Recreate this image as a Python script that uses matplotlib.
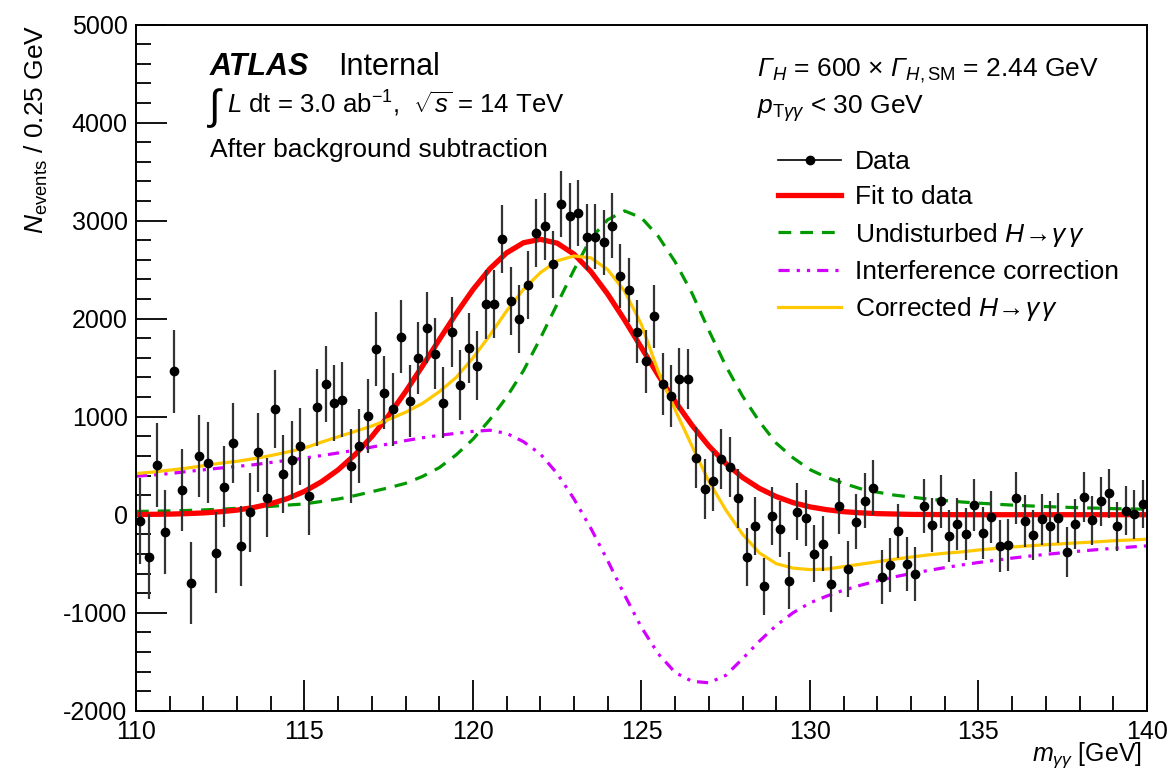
import numpy as np
import matplotlib
matplotlib.use("Agg")
import matplotlib.pyplot as plt
from matplotlib.lines import Line2D
from matplotlib.ticker import MultipleLocator

plt.rcParams["font.family"] = ["Liberation Sans", "DejaVu Sans"]
plt.rcParams["mathtext.fontset"] = "custom"
plt.rcParams["mathtext.rm"] = "Liberation Sans"
plt.rcParams["mathtext.it"] = "Liberation Sans:italic"
plt.rcParams["mathtext.bf"] = "Liberation Sans:bold"
# italic capital Greek (mathtext forces them upright in \mathit)
plt.rcParams["mathtext.sf"] = "Liberation Sans:italic"
plt.rcParams["axes.unicode_minus"] = False

# background-subtracted data, 0.25 GeV bins from 110 to 140 GeV
bin_centres = np.arange(110.125, 140.0, 0.25)
data_events = [
    -64, -429, 507, -180, 1463, 252, -694, 602, 531, -388,
    286, 732, -316, 24, 637, 173, 1079, 418, 561, 697,
    186, 1096, 1334, 1143, 1174, 497, 701, 1010, 1694, 1245,
    1075, 1816, 1157, 1596, 1908, 1643, 1143, 1864, 1323, 1702,
    1520, 2147, 2150, 2816, 2177, 2000, 2341, 2874, 2943, 2555,
    3170, 3045, 3082, 2834, 2834, 2780, 2950, 2438, 2293, 1867,
    1565, 2024, 1330, 1211, 1385, 1385, 582, 259, 347, 568,
    487, 167, -429, -115, -731, -13, -146, -673, 31, -37,
    -396, -294, -710, 87, -554, -70, 143, 276, -636, -514,
    -163, -500, -608, 89, -106, 135, -217, -95, -196, 100,
    -190, -24, -317, -310, 170, -64, -207, -47, -120, -32,
    -380, -96, 181, -59, 137, 220, -118, 40, 5, 112,
]
data_errors = [
    435, 432, 430, 428, 425, 423, 420, 418, 416, 414,
    412, 410, 408, 406, 404, 402, 400, 398, 396, 394,
    392, 390, 388, 386, 384, 382, 380, 378, 376, 374,
    372, 370, 368, 366, 364, 362, 360, 358, 356, 354,
    352, 350, 349, 348, 347, 346, 345, 344, 343, 342,
    340, 338, 336, 334, 332, 330, 328, 326, 324, 322,
    320, 318, 316, 314, 312, 310, 308, 306, 305, 304,
    302, 300, 298, 296, 294, 292, 290, 289, 288, 287,
    286, 285, 284, 283, 282, 281, 280, 279, 278, 277,
    276, 275, 274, 273, 272, 271, 270, 269, 268, 267,
    266, 265, 264, 263, 262, 261, 260, 259, 258, 257,
    256, 255, 254, 253, 252, 251, 250, 249, 248, 247,
]

# model curves read every 0.5 GeV
curve_mass = np.arange(110.0, 140.01, 0.5)
fit_curve = [
    2, 4, 6, 11, 18, 30, 47, 74, 112, 165,
    238, 335, 458, 612, 798, 1013, 1255, 1516, 1786, 2051,
    2297, 2509, 2672, 2775, 2810, 2771, 2658, 2480, 2250, 1986,
    1704, 1422, 1155, 913, 701, 524, 380, 269, 185, 123,
    80, 51, 31, 19, 11, 7, 3, 2, 1, 0,
    0, 0, 0, 0, 0, 0, 0, 0, 0, 0, 0,
]
undisturbed_curve = [
    33, 36, 39, 43, 49, 56, 65, 75, 85, 98,
    110, 135, 160, 195, 235, 275, 320, 390, 480, 610,
    770, 970, 1200, 1470, 1800, 2150, 2500, 2820, 3010, 3100,
    3030, 2840, 2580, 2260, 1880, 1520, 1210, 950, 730, 580,
    460, 380, 320, 265, 230, 200, 180, 160, 145, 130,
    118, 108, 98, 90, 83, 77, 71, 67, 62, 59, 56,
]
interference_curve = [
    393, 405, 420, 440, 458, 476, 493, 510, 533, 555,
    578, 603, 630, 658, 690, 722, 756, 785, 810, 830,
    850, 862, 830, 745, 620, 420, 160, -140, -470, -820,
    -1150, -1420, -1610, -1700, -1715, -1640, -1470, -1290, -1130, -1000,
    -900, -830, -770, -720, -675, -635, -600, -570, -540, -513,
    -488, -465, -443, -423, -405, -388, -372, -357, -343, -330, -318,
]
corrected_curve = [
    420, 435, 455, 475, 500, 525, 545, 572, 603, 640,
    680, 740, 795, 850, 905, 972, 1045, 1135, 1255, 1400,
    1600, 1830, 2080, 2300, 2470, 2590, 2640, 2620, 2500, 2280,
    1940, 1460, 1070, 700, 340, 50, -200, -390, -500, -545,
    -560, -555, -530, -505, -480, -455, -432, -411, -393, -380,
    -360, -345, -330, -318, -306, -296, -286, -277, -266, -258, -250,
]

RED = "#ff0000"
GREEN = "#009900"
MAGENTA = "#d400ff"
GOLD = "#ffc800"
GREEN_DASH = (4.0, 2.8)
MAGENTA_DASH = (3.5, 2.2, 1.0, 2.2, 1.0, 2.2)

fig = plt.figure(figsize=(11.7, 7.69), dpi=100)
ax = fig.add_axes([0.1162, 0.0758, 0.8641, 0.8921])

ax.plot(curve_mass, interference_curve, color=MAGENTA, lw=2.3, dashes=MAGENTA_DASH)
ax.plot(curve_mass, undisturbed_curve, color=GREEN, lw=2.3, dashes=GREEN_DASH)
ax.plot(curve_mass, fit_curve, color=RED, lw=3.8)
ax.plot(curve_mass, corrected_curve, color=GOLD, lw=2.3)
ax.errorbar(bin_centres, data_events, yerr=data_errors, fmt="o", color="black",
            ecolor="#333333", elinewidth=1.6, markersize=6, capsize=0, zorder=5)

ax.set_xlim(110, 140)
ax.set_ylim(-2000, 5000)
ax.xaxis.set_major_locator(MultipleLocator(5))
ax.xaxis.set_minor_locator(MultipleLocator(1))
ax.yaxis.set_major_locator(MultipleLocator(1000))
ax.yaxis.set_minor_locator(MultipleLocator(200))
ax.tick_params(which="both", direction="in", labelsize=18, width=1.3)
ax.tick_params(which="major", length=22)
ax.tick_params(which="minor", length=11)
ax.tick_params(axis="x", pad=7)
ax.tick_params(axis="y", pad=6)
for sp in ax.spines.values():
    sp.set_linewidth(1.4)

ax.set_xlabel(r"$m_{\gamma\gamma}$ [GeV]", fontsize=18, ha="right")
ax.xaxis.set_label_coords(0.995, -0.043)
ax.set_ylabel(r"$N_{\mathrm{events}}$ / 0.25 GeV", fontsize=19, ha="right")
ax.yaxis.set_label_coords(-0.085, 1.0)

tx = ax.transAxes
ax.text(0.0732, 0.9267, "ATLAS", fontsize=22, fontweight="bold", fontstyle="italic",
        va="baseline", transform=tx)
ax.text(0.1998, 0.9267, "Internal", fontsize=22, va="baseline", transform=tx)
ax.text(0.0722, 0.862, "\u222b", fontsize=30, va="baseline", transform=tx)
ax.text(0.0905, 0.871, r"$\mathit{L}$ dt = 3.0 ab$^{-1}$,  $\sqrt{\mathit{s}}$ = 14 TeV",
        fontsize=18.5, va="baseline", transform=tx)
ax.text(0.0732, 0.807, "After background subtraction", fontsize=19, va="baseline", transform=tx)
ax.text(0.614, 0.925, r"$\mathsf{Γ}_{\mathit{H}}$ = 600 × $\mathsf{Γ}_{\mathit{H}\mathrm{,SM}}$ = 2.44 GeV",
        fontsize=19, va="baseline", transform=tx)
ax.text(0.614, 0.8706, r"$\mathit{p}_{\mathrm{T}\gamma\gamma}$ < 30 GeV", fontsize=19,
        va="baseline", transform=tx)

handles = [
    Line2D([], [], color="black", lw=1.2, marker="o", markersize=6),
    Line2D([], [], color=RED, lw=3.8),
    Line2D([], [], color=GREEN, lw=2.3, dashes=GREEN_DASH),
    Line2D([], [], color=MAGENTA, lw=2.3, dashes=MAGENTA_DASH),
    Line2D([], [], color=GOLD, lw=2.3),
]
labels = [
    "Data",
    "Fit to data",
    r"Undisturbed $\mathit{H}\!\rightarrow\!\gamma\,\gamma$",
    "Interference correction",
    r"Corrected $\mathit{H}\!\rightarrow\!\gamma\,\gamma$",
]
ax.legend(handles, labels, loc="upper left", bbox_to_anchor=(0.635, 0.8175), frameon=False,
          fontsize=19, handlelength=2.4, handletextpad=0.53, labelspacing=0.43,
          borderpad=0, borderaxespad=0)

fig.savefig("out.png", dpi=100)
